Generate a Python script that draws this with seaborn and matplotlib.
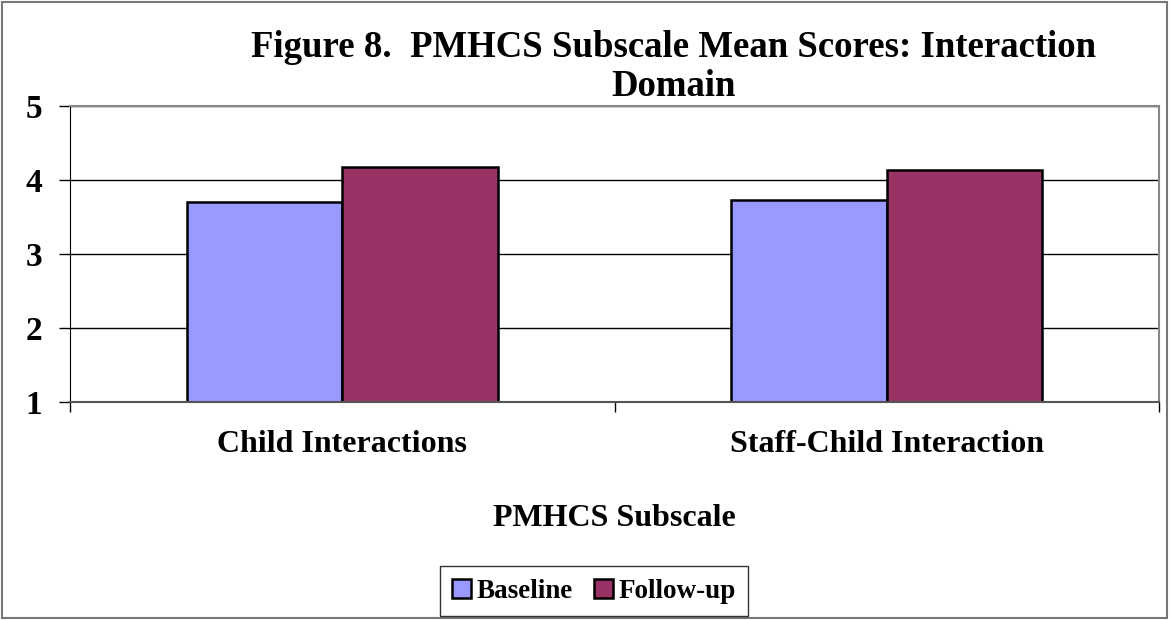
import numpy as np
import matplotlib
matplotlib.use('Agg')
import matplotlib.pyplot as plt
from matplotlib.patches import Rectangle
import pandas as pd
import seaborn as sns

# ------------------
# データ
# ------------------
categories = ['Child Interactions', 'Staff-Child Interaction']
series = ['Baseline', 'Follow-up']
baseline = [3.70, 3.73]
followup = [4.18, 4.13]
colors = ['#9999FF', '#993366']

TITLE = 'Figure 8.  PMHCS Subscale Mean Scores: Interaction\nDomain'
XLABEL = 'PMHCS Subscale'

df = pd.DataFrame({
	'subscale': categories * 2,
	'group': [series[0]] * len(categories) + [series[1]] * len(categories),
	'score': baseline + followup,
})

# ------------------
# 描画
# ------------------
sns.set_style('white')
plt.rcParams['font.family'] = ['Liberation Serif', 'DejaVu Serif']
plt.rcParams['font.weight'] = 'bold'
plt.rcParams['text.color'] = 'black'
plt.rcParams['xtick.color'] = 'black'
plt.rcParams['ytick.color'] = 'black'
plt.rcParams['axes.labelcolor'] = 'black'

fig = plt.figure(figsize=(11.72, 6.2), dpi=100)
ax = fig.add_axes([70/1172, 1-402/620, (1159-70)/1172, (402-106)/620])

sns.barplot(data=df, x='subscale', y='score', hue='group', palette=colors,
			saturation=1, width=0.571, gap=0, edgecolor='black', linewidth=1.8,
			ax=ax, legend=False)

ax.set_ylim(1, 5)
ax.set_xlim(-0.5, 1.5)
ax.set_yticks([1, 2, 3, 4, 5])
ax.yaxis.grid(True, color='black', linewidth=1.0)
ax.set_axisbelow(True)

# 目盛り
ax.tick_params(axis='y', which='major', left=True, length=8, width=1, pad=12,
			   labelsize=24)
ax.tick_params(axis='x', which='major', bottom=False, pad=17, labelsize=23)
ax.set_xticks([-0.5, 0.5, 1.5], minor=True)
ax.tick_params(axis='x', which='minor', bottom=True, length=7, width=1)
for lab in ax.get_xticklabels() + ax.get_yticklabels():
	lab.set_fontweight('bold')

ax.set_ylabel('')
ax.set_xlabel(XLABEL, fontsize=23, fontweight='bold', labelpad=32)

for side in ['top', 'right']:
	ax.spines[side].set_color('#888888')
	ax.spines[side].set_linewidth(1.5)
ax.spines['left'].set_color('black')
ax.spines['bottom'].set_color('#555555')
ax.spines['bottom'].set_linewidth(1.5)

fig.text(673/1172, 1-67/620, TITLE, ha='center', va='center', fontsize=26.5,
		 fontweight='bold', linespacing=1.15)

# 凡例
handles = [Rectangle((0, 0), 1, 1, facecolor=c, edgecolor='black', linewidth=1.8) for c in colors]
leg = fig.legend(handles, series, loc='center', bbox_to_anchor=(594/1172, 1-591/620),
				 ncol=2, fontsize=19.5, frameon=True, fancybox=False, handlelength=0.7,
				 handleheight=0.7, handletextpad=0.2, columnspacing=0.8,
				 borderpad=0.45, borderaxespad=0)
leg.get_frame().set_edgecolor('black')
leg.get_frame().set_linewidth(1.0)
for t in leg.get_texts():
	t.set_fontweight('bold')

# 外枠
fig.patches.append(Rectangle((0.002, 0.004), 0.994, 0.992, transform=fig.transFigure,
							 fill=False, edgecolor='#777777', linewidth=1.5))

plt.savefig('out.png', dpi=100)
